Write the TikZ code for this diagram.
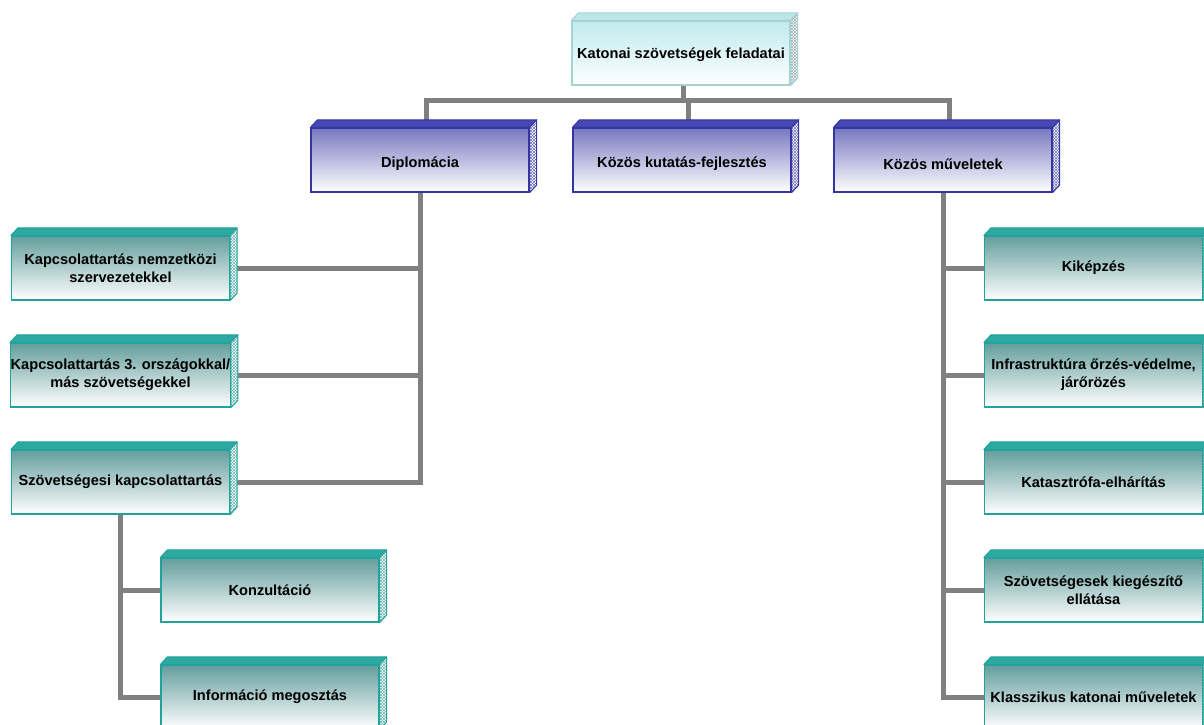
\documentclass[tikz,border=0pt]{standalone}
\usepackage{fontspec}
\setmainfont{Liberation Sans}
\usetikzlibrary{backgrounds,patterns}
\definecolor{tlB}{HTML}{1FA39B}
\definecolor{tlT}{HTML}{2EA9A1}
\definecolor{tlF}{HTML}{639E9C}
\definecolor{tlS}{HTML}{6FB8B4}
\definecolor{blB}{HTML}{3434A4}
\definecolor{blT}{HTML}{4848B2}
\definecolor{blF}{HTML}{7878C0}
\definecolor{blS}{HTML}{7474BC}
\definecolor{cyB}{HTML}{A6D2D4}
\definecolor{cyT}{HTML}{BCE5E7}
\definecolor{cyF}{HTML}{C0EAEE}
\definecolor{cyS}{HTML}{9CB4B4}
\definecolor{conn}{HTML}{808080}
\newcommand\lowstrut[1]{\rule{0pt}{#1}}
\tikzset{
  box/.style={draw=#1B, line width=1.2pt, minimum width=218pt, minimum height=64pt,
    inner xsep=0pt, inner ysep=2pt, align=center,
    font=\bfseries\fontsize{14.6}{18}\selectfont,
    top color=#1F, middle color=#1F!22!white, bottom color=white,
    append after command={\pgfextra{
      \filldraw[fill=#1T, draw=#1B, line width=1pt, line join=round]
        (\tikzlastnode.north west) -- ++(7pt,7.5pt)
        -- ([shift={(7pt,7.5pt)}]\tikzlastnode.north east)
        -- (\tikzlastnode.north east) -- cycle;
      \fill[white]
        (\tikzlastnode.north east) -- ++(7pt,7.5pt)
        -- ([shift={(7pt,7.5pt)}]\tikzlastnode.south east)
        -- (\tikzlastnode.south east) -- cycle;
      \fill[pattern=north east lines, pattern color=#1S]
        (\tikzlastnode.north east) -- ++(7pt,7.5pt)
        -- ([shift={(7pt,7.5pt)}]\tikzlastnode.south east)
        -- (\tikzlastnode.south east) -- cycle;
      \filldraw[pattern=north west lines, pattern color=#1S, draw=#1B, line width=1pt, line join=round]
        (\tikzlastnode.north east) -- ++(7pt,7.5pt)
        -- ([shift={(7pt,7.5pt)}]\tikzlastnode.south east)
        -- (\tikzlastnode.south east) -- cycle;
    }}},
  connector/.style={draw=conn, line width=5pt, line join=miter},
}
\begin{document}
\begin{tikzpicture}[x=1pt,y=-1pt]
\useasboundingbox (0,0) rectangle (1204,725);
\clip (0,0) rectangle (1204,725);
\coordinate (bar) at (0,100);
\node[box=cy] (top) at (681,53) {\lowstrut{15pt}Katonai szövetségek feladatai};
\node[box=bl] (dipl) at (420,160) {\lowstrut{18.5pt}Diplomácia};
\node[box=bl] (kut) at (682,160) {\lowstrut{18.5pt}Közös kutatás-fejlesztés};
\node[box=bl] (muv) at (943,160) {\lowstrut{18.5pt}Közös műveletek};
\node[box=tl] (L1) at (120.5,268) {Kapcsolattartás nemzetközi\\szervezetekkel};
\node[box=tl] (L2) at (120.5,375) {Kapcsolattartás 3. országokkal/\\más szövetségekkel};
\node[box=tl] (L3) at (120.5,482) {Szövetségesi kapcsolattartás};
\node[box=tl] (K1) at (270,590) {Konzultáció};
\node[box=tl] (K2) at (270,697) {Információ megosztás};
\node[box=tl] (R1) at (1093.5,268) {Kiképzés};
\node[box=tl] (R2) at (1093.5,375) {Infrastruktúra őrzés-védelme,\\járőrözés};
\node[box=tl] (R3) at (1093.5,482) {Katasztrófa-elhárítás};
\node[box=tl] (R4) at (1093.5,590) {Szövetségesek kiegészítő\\ellátása};
\node[box=tl] (R5) at (1093.5,697) {Klasszikus katonai műveletek};
\begin{scope}[on background layer]
  \draw[connector] ([xshift=2pt]top.south) -- ([xshift=2pt]top.south |- bar);
  \draw[connector] ([xshift=6pt]dipl.north) -- ([xshift=6pt]dipl.north |- bar)
     -- ([xshift=6pt]muv.north |- bar) -- ([xshift=6pt]muv.north);
  \draw[connector] ([xshift=6pt]kut.north) -- ([xshift=6pt]kut.north |- bar);
  \draw[connector] (dipl.south) |- (L3.east);
  \draw[connector] (L1.east) -- (L1.east -| dipl.south);
  \draw[connector] (L2.east) -- (L2.east -| dipl.south);
  \draw[connector] (L3.south) |- (K2.west);
  \draw[connector] (K1.west) -- (K1.west -| L3.south);
  \draw[connector] (muv.south) |- (R5.west);
  \draw[connector] (R1.west) -- (R1.west -| muv.south);
  \draw[connector] (R2.west) -- (R2.west -| muv.south);
  \draw[connector] (R3.west) -- (R3.west -| muv.south);
  \draw[connector] (R4.west) -- (R4.west -| muv.south);
\end{scope}
\end{tikzpicture}
\end{document}
